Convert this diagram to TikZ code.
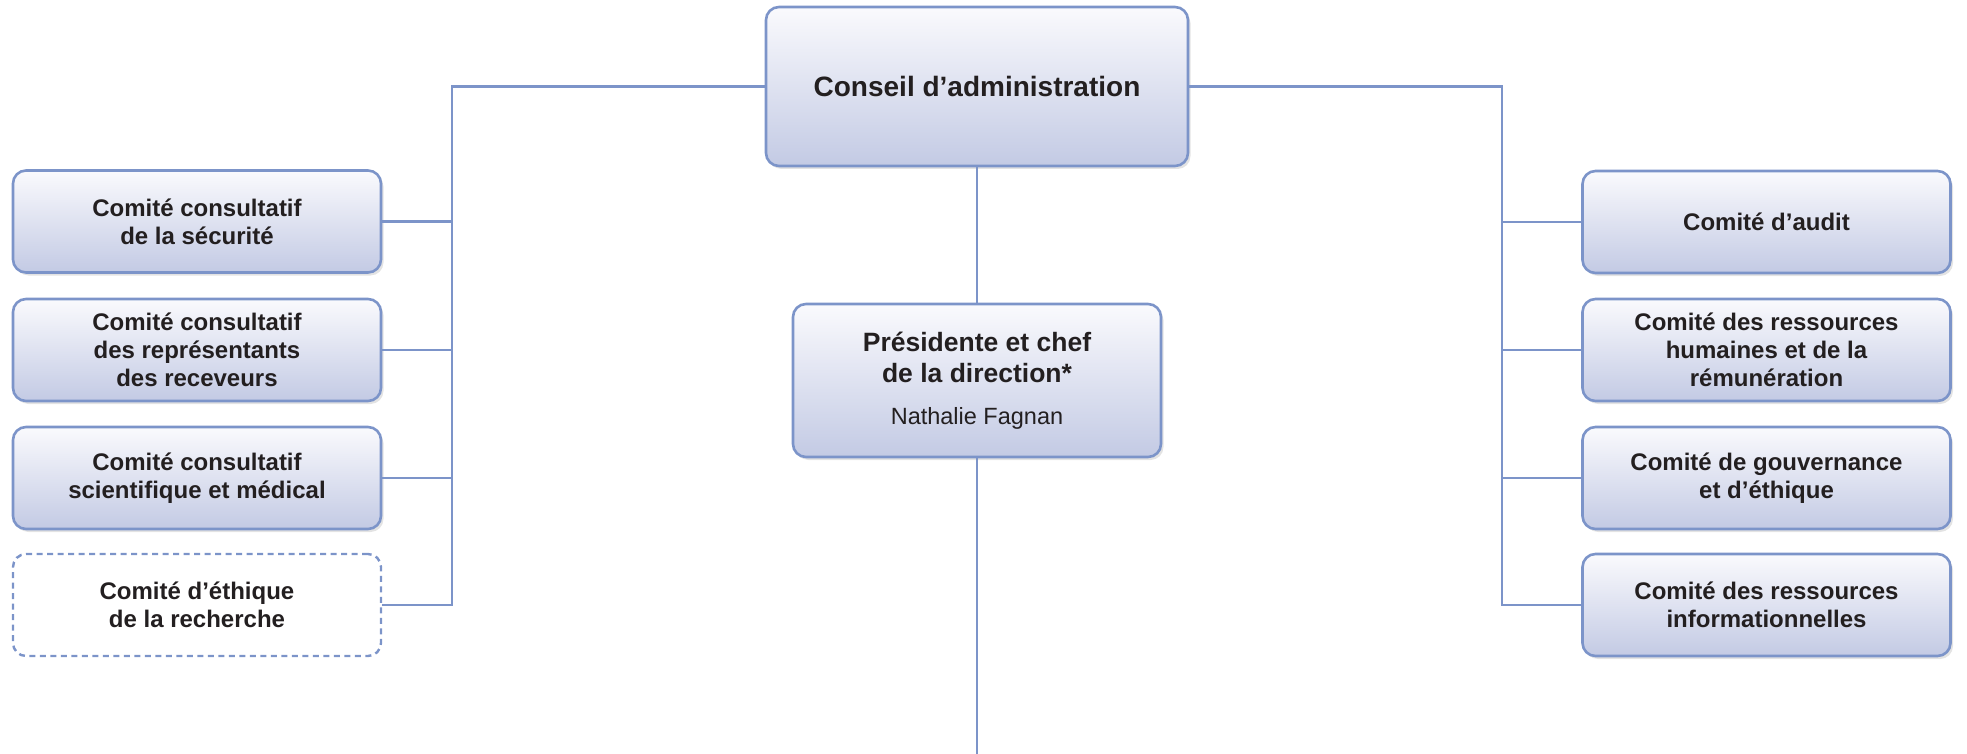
\documentclass[tikz,border=0pt]{standalone}
\usepackage{fontspec}
\setmainfont{Liberation Sans}
\usetikzlibrary{shadows}
\definecolor{lineblue}{HTML}{7C94C9}
\definecolor{boxtop}{HTML}{FAFAFD}
\definecolor{boxbot}{HTML}{C3CAE4}
\definecolor{txt}{HTML}{231F20}
\tikzset{
  conn/.style={draw=lineblue, line width=2.6pt},
  orgbox/.style={draw=lineblue, line width=2.6pt, rounded corners=13pt,
    top color=boxtop, bottom color=boxbot, align=center, text=txt,
    inner sep=0pt,
    drop shadow={opacity=0.22, shadow xshift=2.5pt, shadow yshift=-3pt},
    font=\fontsize{24}{28}\selectfont\bfseries},
  sidebox/.style={orgbox, minimum width=368pt, minimum height=102pt},
  dashbox/.style={draw=lineblue, line width=2.4pt, rounded corners=13pt,
    dash pattern=on 6pt off 4.5pt, align=center, text=txt, inner sep=0pt,
    minimum width=368pt, minimum height=102pt,
    font=\fontsize{24}{28}\selectfont\bfseries},
}
\begin{document}
\begin{tikzpicture}[x=1pt,y=-1pt]
\useasboundingbox (0,0) rectangle (1967,754);
% top
\node[orgbox, minimum width=422pt, minimum height=159pt,
  font=\fontsize{28}{33}\selectfont\bfseries] (ca) at (977,86.5) {Conseil d’administration};
% president
\node[orgbox, minimum width=368pt, minimum height=153pt,
  font=\fontsize{26.5}{31}\selectfont\bfseries] (pres) at (977,380.5)
  {Présidente et chef\\de la direction*\\[11pt]%
   {\mdseries\fontsize{23.5}{28}\selectfont Nathalie Fagnan}};
% left
\node[sidebox] (l1) at (197,221.5) {Comité consultatif\\de la sécurité};
\node[sidebox] (l2) at (197,350) {Comité consultatif\\des représentants\\des receveurs};
\node[sidebox] (l3) at (197,478) {Comité consultatif\\scientifique et médical};
\node[dashbox] (l4) at (197,605) {Comité d’éthique\\de la recherche};
% right
\node[sidebox] (r1) at (1766.5,222) {Comité d’audit};
\node[sidebox] (r2) at (1766.5,350) {Comité des ressources\\humaines et de la\\rémunération};
\node[sidebox] (r3) at (1766.5,478) {Comité de gouvernance\\et d’éthique};
\node[sidebox] (r4) at (1766.5,605) {Comité des ressources\\informationnelles};
% trunks
\coordinate (lt) at (452,605);
\coordinate (rt) at (1502,605);
\coordinate (bot) at (977,754);
\draw[conn] (ca.west) -| (lt) -- (l4.east);
\draw[conn] (ca.east) -| (rt) -- (r4.west);
\draw[conn] (l1.east) -- (l1.east -| lt);
\draw[conn] (l2.east) -- (l2.east -| lt);
\draw[conn] (l3.east) -- (l3.east -| lt);
\draw[conn] (r1.west) -- (r1.west -| rt);
\draw[conn] (r2.west) -- (r2.west -| rt);
\draw[conn] (r3.west) -- (r3.west -| rt);
\draw[conn] (ca.south) -- (pres.north);
\draw[conn] (pres.south) -- (bot);
\end{tikzpicture}
\end{document}
